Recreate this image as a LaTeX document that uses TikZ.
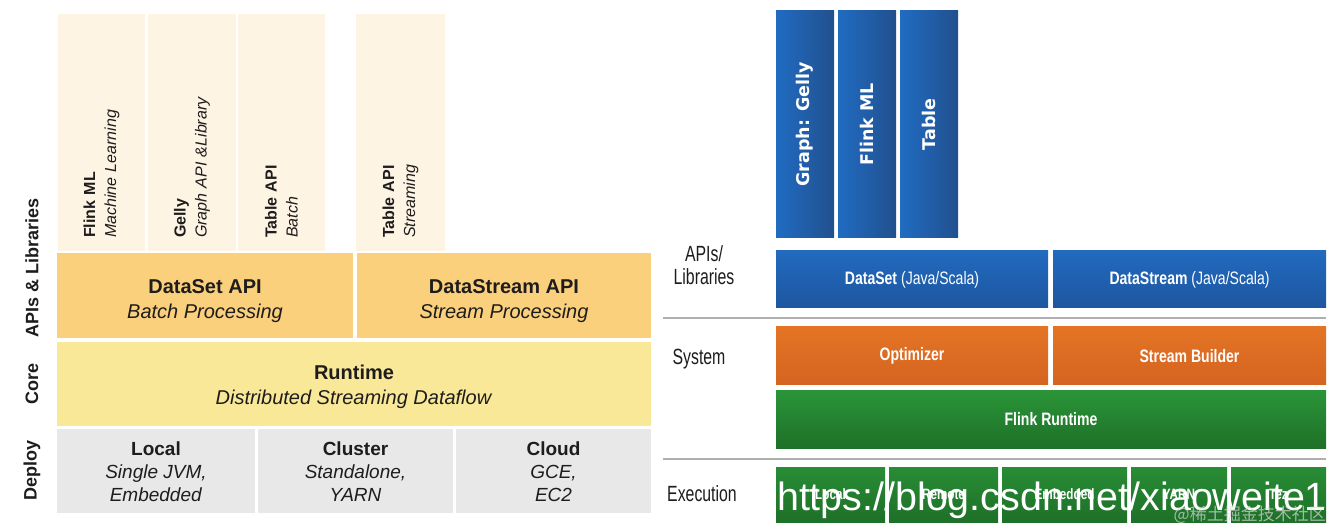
\documentclass[tikz,border=0pt]{standalone}
\usepackage{fontspec}
\setmainfont{Liberation Sans}
\newfontfamily\narrowfont[FakeStretch=0.78]{Liberation Sans}
\newfontfamily\labelfont[FakeStretch=0.72]{Liberation Sans}
\newfontfamily\dejavufont{DejaVu Sans}
\newfontfamily\cjkfont{Noto Sans CJK SC}
\newcommand\liftline[1]{\rule{0pt}{#1}}
\definecolor{cream}{RGB}{253,244,228}
\definecolor{apiorange}{RGB}{250,208,124}
\definecolor{coreyellow}{RGB}{248,232,152}
\definecolor{deploygray}{RGB}{232,232,232}
\definecolor{darktext}{RGB}{30,28,28}
\definecolor{bluelight}{RGB}{32,108,194}
\definecolor{bluedark}{RGB}{34,80,142}
\definecolor{bluetop}{RGB}{33,106,190}
\definecolor{bluebot}{RGB}{30,86,160}
\definecolor{orangetop}{RGB}{228,116,36}
\definecolor{orangebot}{RGB}{212,100,32}
\definecolor{greentop}{RGB}{42,148,56}
\definecolor{greenbot}{RGB}{30,112,40}
\definecolor{sepgray}{RGB}{175,175,175}
\tikzset{
  box/.style={rectangle, inner sep=0pt, draw=none, align=center},
  libcol/.style={box, fill=cream, rotate=90, minimum width=237, text width=211,
    align=left, text=darktext, font=\fontsize{16}{21}\selectfont},
  apibox/.style={box, fill=apiorange, minimum height=85, text=darktext,
    font=\fontsize{20}{25}\selectfont},
  corebox/.style={box, fill=coreyellow, minimum height=83, text=darktext,
    font=\fontsize{20}{25}\selectfont},
  deploybox/.style={box, fill=deploygray, minimum height=84, text=darktext,
    font=\fontsize{19}{23}\selectfont},
  sidelabel/.style={rotate=90, text=darktext, font=\fontsize{18}{22}\selectfont\bfseries},
  bluecol/.style={box, left color=bluelight, right color=bluedark, minimum width=58,
    minimum height=227, text=white},
  bluecoltext/.style={rotate=90, text=white, font=\dejavufont\fontsize{17.5}{20}\selectfont\bfseries},
  bluebox/.style={box, top color=bluetop, bottom color=bluebot, minimum height=57,
    text=white, font=\narrowfont\fontsize{18}{22}\selectfont},
  orangebox/.style={box, top color=orangetop, bottom color=orangebot, minimum height=58,
    text=white, font=\narrowfont\fontsize{18}{22}\selectfont\bfseries},
  greenbox/.style={box, top color=greentop, bottom color=greenbot, minimum height=57,
    text=white, font=\narrowfont\fontsize{18}{22}\selectfont\bfseries},
  execbox/.style={box, top color=greentop!95!black, bottom color=greenbot, minimum height=55,
    text=white, font=\narrowfont\fontsize{15}{18}\selectfont\bfseries},
  rightlabel/.style={text=darktext, align=center, inner sep=0pt,
    font=\labelfont\fontsize{22}{23.5}\selectfont},
  separator/.style={draw=sepgray, line width=1.6pt}
}
\begin{document}
\begin{tikzpicture}[x=1pt, y=-1pt]
\useasboundingbox (0,0) rectangle (1334,529);
\fill[white] (0,0) rectangle (1334,529);

% ---------- left diagram ----------
\node[libcol, minimum height=87] (fml) at (101.5,132.5) {\textbf{Flink ML}\\\textit{Machine Learning}};
\node[libcol, minimum height=88] (gelly) at (192,132.5) {\textbf{Gelly}\\\textit{Graph API \&Library}};
\node[libcol, minimum height=87] (tblb) at (281.5,132.5) {\textbf{Table API}\\\textit{Batch}};
\node[libcol, minimum height=89] (tbls) at (400.5,132.5) {\textbf{Table API}\\\textit{Streaming}};

\node[apibox, minimum width=296] (dsapi) at (205,296) {\liftline{23.5pt}\textbf{DataSet API}\\\textit{Batch Processing}};
\node[apibox, minimum width=294] (dstapi) at (504,296) {\liftline{23.5pt}\textbf{DataStream API}\\\textit{Stream Processing}};
\node[corebox, minimum width=594] (runtime) at (354,384) {\liftline{20.5pt}\textbf{Runtime}\\\textit{Distributed Streaming Dataflow}};
\node[deploybox, minimum width=198] (local) at (156,471) {\liftline{15.6pt}\textbf{Local}\\\textit{Single JVM,}\\\textit{Embedded}};
\node[deploybox, minimum width=195] (cluster) at (355.5,471) {\liftline{15.6pt}\textbf{Cluster}\\\textit{Standalone,}\\\textit{YARN}};
\node[deploybox, minimum width=195] (cloud) at (553.5,471) {\liftline{15.6pt}\textbf{Cloud}\\\textit{GCE,}\\\textit{EC2}};

\node[sidelabel] (lapi) at (32,268) {APIs \& Libraries};
\node[sidelabel] (lcore) at (32,383.5) {Core};
\node[sidelabel] (ldeploy) at (32,470) {Deploy};

% ---------- right diagram ----------
\node[bluecol] (gcol) at (805,124.5) {};
\node[bluecol] (mcol) at (867,124.5) {};
\node[bluecol] (tcol) at (929,124.5) {};
\node[bluecoltext] (gtxt) at (gcol.center) {Graph: Gelly};
\node[bluecoltext] (mtxt) at (mcol.center) {Flink ML};
\node[bluecoltext] (ttxt) at (tcol.center) {Table};

\node[bluebox, minimum width=272] (rds) at (912,279.5) {\textbf{DataSet} (Java/Scala)};
\node[bluebox, minimum width=273] (rdst) at (1189.5,279.5) {\textbf{DataStream} (Java/Scala)};
\node[orangebox, minimum width=272] (opt) at (912,356) {Optimizer};
\node[orangebox, minimum width=273] (sb) at (1189.5,356) {Stream Builder};
\node[greenbox, minimum width=550] (frt) at (1051,419.5) {Flink Runtime};

\node[execbox, minimum width=109] (elocal) at (830.5,494.5) {Local};
\node[execbox, minimum width=109] (eremote) at (943.5,494.5) {Remote};
\node[execbox, minimum width=125] (eemb) at (1064.5,494.5) {Embedded};
\node[execbox, minimum width=96] (eyarn) at (1179,494.5) {YARN};
\node[execbox, minimum width=95] (etez) at (1278.5,494.5) {Tez};

\node[rightlabel] (rlapi) at (704,265) {APIs/\\Libraries};
\node[rightlabel] (rlsys) at (699,359) {System};
\node[rightlabel] (rlexec) at (702,494) {Execution};

\coordinate (s1a) at (663,318);
\coordinate (s1b) at (1326,318);
\coordinate (s2a) at (663,459);
\coordinate (s2b) at (1326,459);
\draw[separator] (s1a) -- (s1b);
\draw[separator] (s2a) -- (s2b);

% ---------- watermarks ----------
\node[anchor=base, text=white, inner sep=0pt, font=\fontsize{39.4}{44}\selectfont] (wm) at (1052,510) {https://blog.csdn.net/xiaoweite1};
\node[anchor=east, inner sep=0pt, text=white!70!gray, opacity=0.7, font=\cjkfont\fontsize{17}{20}\selectfont] (wm2) at (1326,515) {@稀土掘金技术社区};
\end{tikzpicture}
\end{document}
